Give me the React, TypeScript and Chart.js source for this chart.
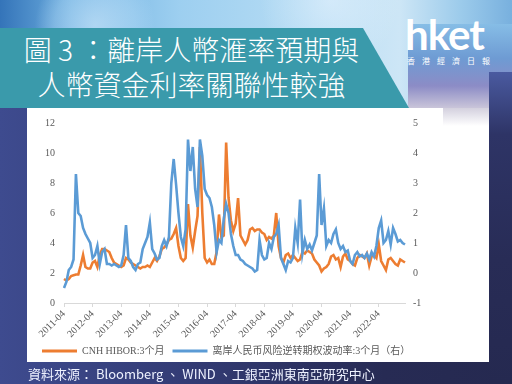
import React, { useEffect, useRef } from 'react';
import { Chart, registerables } from 'chart.js';

Chart.register(...registerables);

// ---- data (monthly, 2011-04 .. 2023-03) ----
const startYear = 2011;
const startMonth = 4;

const tickLabels = [
  '2011-04', '2012-04', '2013-04', '2014-04', '2015-04', '2016-04',
  '2017-04', '2018-04', '2019-04', '2020-04', '2021-04', '2022-04',
];

// CNH HIBOR 3M (left axis)
const cnhHibor3m = [
  1.6, 1.5, 1.6, 1.8, 1.85, 1.9, 1.9, 2.5, 3.2, 2.4, 2.3, 2.3,
  2.7, 2.8, 2.4, 3.2, 3.6, 3.6, 3.5, 3.4, 3.0, 2.7, 2.6, 2.5,
  2.4, 2.5, 3.0, 2.9, 2.7, 2.6, 2.5, 2.4, 2.3, 2.4, 2.4, 2.5,
  2.4, 2.7, 3.0, 2.8, 3.1, 3.6, 3.7, 3.9, 4.2, 4.3, 4.6, 5.0,
  3.8, 3.0, 2.8, 3.0, 6.6, 4.5, 3.7, 4.8, 5.8, 10.4, 6.0, 3.0,
  2.7, 2.9, 2.6, 2.6, 3.4, 5.9, 4.4, 4.5, 10.7, 7.0, 5.5, 4.8,
  5.3, 7.0, 4.5, 4.2, 3.9, 4.2, 4.9, 5.0, 4.8, 4.9, 4.9, 4.7,
  4.6, 4.2, 4.4, 4.3, 4.5, 6.0, 3.8, 3.0, 2.7, 3.2, 3.3, 3.0,
  3.2, 3.0, 2.8, 2.9, 3.4, 3.3, 3.5, 3.4, 3.3, 2.9, 2.7, 2.5,
  2.1, 2.3, 2.4, 2.6, 3.1, 3.2, 2.9, 3.0, 2.4, 3.1, 3.3, 2.9,
  2.8, 2.6, 2.5, 3.0, 3.2, 3.1, 3.0, 3.3, 2.5, 3.1, 3.2, 3.0,
  3.9, 2.8, 2.5, 2.2, 2.9, 3.0, 2.8, 2.6, 2.5, 2.9, 2.8, 2.7,
];

// Offshore RMB risk-reversal option volatility 3M (right axis)
const rrVol3m = [
  -0.5, -0.3, 0.1, 0.2, 0.45, 3.3, 2.0, 1.9, 1.5, 1.3, 1.15, 1.0,
  0.5, 0.6, 0.9, 0.3, 0.7, 0.8, 0.3, 0.3, 0.25, 0.3, 0.25, 0.2,
  0.25, 0.6, 1.6, 0.5, 0.4, 0.2, 0.1, 0.3, 0.35, 0.8, 1.0, 1.2,
  1.68, 0.8, 0.65, 0.45, 0.5, 0.9, 1.1, 0.9, 1.2, 3.0, 3.8, 2.95,
  2.0, 1.2, 0.9, 1.45, 4.45, 3.4, 4.2, 2.8, 2.2, 4.45, 3.9, 2.8,
  2.6, 2.5, 2.2, 1.6, 0.7, 1.1, 1.0, 1.8, 2.3, 2.0, 1.3, 0.9,
  0.6, 0.6, 0.45, 0.4, 0.3, 0.25, 0.2, 0.15, 0.05, 0.1, 1.1, 0.6,
  0.45, 0.5, 1.0, 0.8, 1.2, 1.3, 1.6, 0.5, 0.3, 0.1, 0.4, 0.35,
  0.5, 1.5, 1.0, 2.45, 0.65, 1.1, 0.8, 0.95, 0.75, 1.0, 1.25, 3.3,
  1.6, 2.15, 0.9, 1.1, 1.0, 1.3, 1.45, 1.0, 0.8, 0.9, 0.7, 0.75,
  0.4, 0.3, 0.6, 0.7, 0.55, 0.6, 0.5, 0.65, 0.45, 0.7, 0.55, 0.9,
  1.5, 1.75, 1.0, 1.1, 1.4, 0.95, 1.5, 1.3, 1.05, 1.1, 1.0, 0.95,
];

const seriesNames = ['CNH HIBOR:3个月', '离岸人民币风险逆转期权波动率:3个月（右）'];
const leftTicks = { min: 0, max: 12, step: 2 };
const rightTicks = { min: -1, max: 5, step: 1 };

function buildMonths(n: number): string[] {
  const out: string[] = [];
  for (let i = 0; i < n; i++) {
    const t = startMonth - 1 + i;
    const y = startYear + Math.floor(t / 12);
    const m = (t % 12) + 1;
    out.push(`${y}-${m < 10 ? '0' + m : m}`);
  }
  return out;
}
const months = buildMonths(cnhHibor3m.length);

const ORANGE = '#ED7D31';
const BLUE = '#5B9BD5';
const SERIF = "'Liberation Serif', 'Times New Roman', 'Noto Sans CJK SC', serif";
const AXIS_TEXT = '#595959';

export default function App() {
  const canvasRef = useRef<HTMLCanvasElement>(null);

  useEffect(() => {
    const el = canvasRef.current;
    if (!el) return;
    const chart = new Chart(el, {
      type: 'line',
      data: {
        labels: months,
        datasets: [
          {
            label: seriesNames[1],
            data: rrVol3m,
            yAxisID: 'y1',
            borderColor: BLUE,
            backgroundColor: BLUE,
            borderWidth: 2.6,
            pointRadius: 0,
            tension: 0,
          },
          {
            label: seriesNames[0],
            data: cnhHibor3m,
            yAxisID: 'y',
            borderColor: ORANGE,
            backgroundColor: ORANGE,
            borderWidth: 2.6,
            pointRadius: 0,
            tension: 0,
          },
        ],
      },
      options: {
        animation: false,
        responsive: false,
        devicePixelRatio: 1,
        layout: { padding: { left: 7, right: 0, top: 13, bottom: 0 } },
        plugins: {
          legend: {
            position: 'bottom',
            align: 'start',
            reverse: true,
            labels: {
              boxWidth: 35,
              boxHeight: 3,
              padding: 8,
              color: AXIS_TEXT,
              font: { family: SERIF, size: 10 },
              generateLabels: (c: any) =>
                (Chart.defaults.plugins.legend.labels as any)
                  .generateLabels(c)
                  .map((l: any) => ({ ...l, lineWidth: 0 })),
            },
          },
          tooltip: { enabled: false },
        },
        scales: {
          x: {
            type: 'category',
            afterFit: (s: any) => {
              s.height = 35;
            },
            grid: {
              display: true,
              drawOnChartArea: false,
              drawTicks: true,
              tickLength: 4,
              color: '#d9d9d9',
            },
            border: { display: true, color: '#d9d9d9', width: 1 },
            ticks: {
              autoSkip: false,
              maxRotation: 45,
              minRotation: 45,
              padding: 1,
              color: AXIS_TEXT,
              font: { family: SERIF, size: 10 },
              callback: (_v: any, i: number) =>
                tickLabels.includes(months[i]) ? months[i] : null,
            },
          },
          y: {
            position: 'left',
            min: leftTicks.min,
            max: leftTicks.max,
            afterFit: (s: any) => {
              s.width = 30;
            },
            grid: { display: false, drawTicks: false },
            border: { display: false },
            ticks: {
              stepSize: leftTicks.step,
              padding: 9,
              color: AXIS_TEXT,
              font: { family: SERIF, size: 10 },
            },
          },
          y1: {
            position: 'right',
            min: rightTicks.min,
            max: rightTicks.max,
            afterFit: (s: any) => {
              s.width = 84;
            },
            grid: { display: false, drawTicks: false },
            border: { display: false },
            ticks: {
              stepSize: rightTicks.step,
              padding: 8,
              color: AXIS_TEXT,
              font: { family: SERIF, size: 10 },
            },
          },
        },
      },
    } as any);
    return () => chart.destroy();
  }, []);

  const abs = (s: React.CSSProperties): React.CSSProperties => ({ position: 'absolute', ...s });

  return (
    <div
      style={{
        position: 'fixed',
        left: 0,
        top: 0,
        width: 512,
        height: 384,
        overflow: 'hidden',
        background: 'linear-gradient(90deg, #3e4b8f 0%, #323a72 40%, #272b54 75%, #252950 100%)',
      }}
    >
      {/* sky at top */}
      <div
        style={abs({
          left: 0,
          top: 0,
          width: 512,
          height: 108,
          background:
            'radial-gradient(circle at 95px 25px, rgba(220,240,255,0.55) 0px, rgba(190,225,250,0.35) 40px, rgba(255,255,255,0) 60px),' +
            'radial-gradient(circle at 330px 0px, rgba(235,245,255,0.5) 0px, rgba(255,255,255,0) 70px),' +
            'linear-gradient(90deg, #3474b9 0%, #6fb0e0 14%, #9dcff0 35%, #b6dcf4 60%, #cde6f6 78%, #9ccbeb 90%, #78b0de 100%)',
        })}
      />
      {/* right area behind logo */}
      <div
        style={abs({
          left: 408,
          top: 24,
          width: 104,
          height: 86,
          background: 'linear-gradient(180deg, #86bde6 0%, #6e9bd3 40%, #8c8cc6 72%, #cfcadb 100%)',
        })}
      />
      {/* right dark strip */}
      <div
        style={abs({
          left: 489,
          top: 72,
          width: 23,
          height: 312,
          background: 'linear-gradient(180deg, #4a5aa0 0%, #2e3466 20%, #282c56 60%, #252950 100%)',
        })}
      />
      {/* teal banner */}
      <div
        style={abs({
          left: 0,
          top: 28,
          width: 410,
          height: 80,
          background: '#3a9aab',
          clipPath: 'polygon(0 0, 363px 0, 409px 80px, 0 80px)',
        })}
      />
      <div
        style={abs({
          left: 0,
          top: 32,
          width: 383,
          textAlign: 'center',
          color: '#ffffff',
          fontFamily: "'Noto Sans CJK TC', 'Noto Sans CJK SC', sans-serif",
          fontWeight: 300,
          fontSize: 28,
          lineHeight: '35px',
          whiteSpace: 'nowrap',
        })}
      >
        <div>圖 3 ：離岸人幣滙率預期與</div>
        <div>人幣資金利率關聯性較強</div>
      </div>
      {/* logo */}
      <div
        style={abs({
          left: 405,
          top: 9,
          width: 88,
          color: '#ffffff',
          fontFamily: "Lato, 'Open Sans', sans-serif",
          fontWeight: 700,
          fontSize: 42,
          lineHeight: '50px',
          letterSpacing: '-1px',
        })}
      >
        hket
      </div>
      <div
        style={abs({
          left: 407,
          top: 56,
          width: 83,
          display: 'flex',
          justifyContent: 'space-between',
          color: '#ffffff',
          fontFamily: "'Noto Sans CJK TC', sans-serif",
          fontSize: 8,
          lineHeight: '10px',
        })}
      >
        {['香', '港', '經', '濟', '日', '報'].map((c) => (
          <span key={c}>{c}</span>
        ))}
      </div>
      {/* white chart panel */}
      <div style={abs({ left: 27, top: 108, width: 462, height: 254, background: '#ffffff' })} />
      <div
        style={abs({
          left: 443,
          top: 108,
          width: 46,
          height: 18,
          background: 'linear-gradient(180deg, #d3d0de 0%, #ffffff 100%)',
        })}
      />
      <canvas ref={canvasRef} width={462} height={258} style={abs({ left: 27, top: 108, width: 462, height: 258 })} />
      {/* source */}
      <div
        style={abs({
          left: 28,
          top: 365,
          color: '#eef2ff',
          fontFamily: "'Noto Sans CJK TC', 'Noto Sans', sans-serif",
          fontSize: 13,
          lineHeight: '17px',
          whiteSpace: 'nowrap',
        })}
      >
        資料來源： Bloomberg 、 WIND 、工銀亞洲東南亞研究中心
      </div>
    </div>
  );
}
